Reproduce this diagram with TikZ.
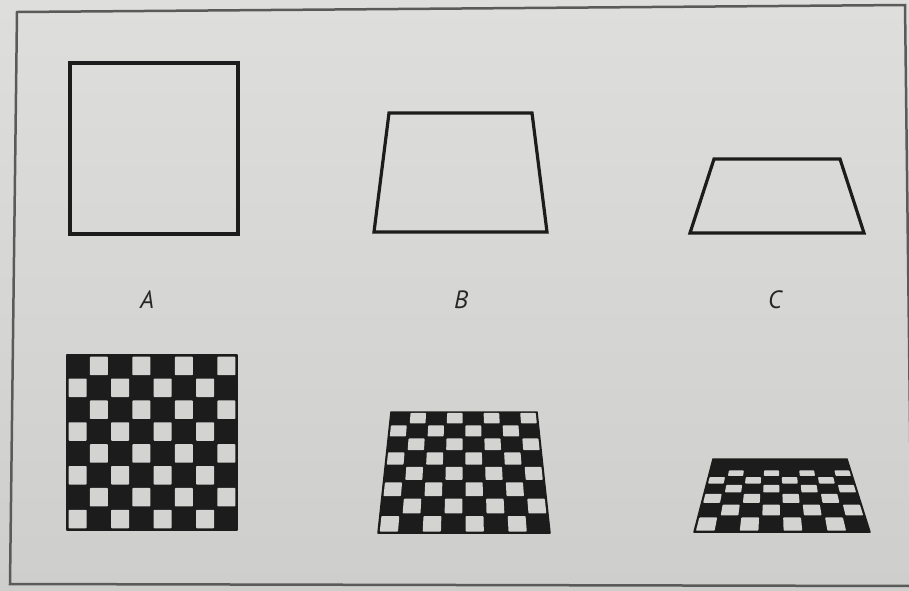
\documentclass[tikz,border=0pt]{standalone}
\usepackage{fontspec}
\newfontfamily\labelfont{PT Sans}
\definecolor{inkc}{HTML}{1C1C1C}
\definecolor{lightc}{HTML}{D3D3D1}
\definecolor{bgtop}{HTML}{DEDEDC}
\definecolor{bgbot}{HTML}{CECECC}
\definecolor{framec}{HTML}{5A5A5A}
\definecolor{labc}{HTML}{262626}
\def\eu{0.075}
\def\ev{0.075}
\newcommand\setboard[8]{\def\byt{#1}\def\byb{#2}\def\bxtl{#3}\def\bxtr{#4}\def\bxbl{#5}\def\bxbr{#6}\def\bk{#7}\def\bn{#8}}
\newcommand\mapuv[3]{%
  \pgfmathsetmacro\mySs{(#3)/(\bk+(1-\bk)*(#3))}%
  \pgfmathsetmacro\myYY{\byt+(\byb-\byt)*\mySs}%
  \pgfmathsetmacro\myXL{\bxtl+(\bxbl-\bxtl)*\mySs}%
  \pgfmathsetmacro\myXR{\bxtr+(\bxbr-\bxtr)*\mySs}%
  \pgfmathsetmacro\myXX{\myXL+(\myXR-\myXL)*(#2)}%
  \coordinate (#1) at (\myXX,\myYY);}
\newcommand\drawboard[2]{% #1 name, #2 first row with light squares
  \coordinate (#1-tl) at (\bxtl,\byt);
  \coordinate (#1-tr) at (\bxtr,\byt);
  \coordinate (#1-br) at (\bxbr,\byb);
  \coordinate (#1-bl) at (\bxbl,\byb);
  \path[darkfill] (#1-tl) -- (#1-tr) -- (#1-br) -- (#1-bl) -- cycle;
  \pgfmathtruncatemacro\bnm{\bn-1}%
  \foreach \i in {#2,...,\bnm}{\foreach \j in {0,...,7}{%
    \pgfmathtruncatemacro\myodd{mod(\i+\j,2)}%
    \ifnum\myodd=1
      \mapuv{p1}{(\j+\eu)/8}{(\i+\ev)/\bn}
      \mapuv{p2}{(\j+1-\eu)/8}{(\i+\ev)/\bn}
      \mapuv{p3}{(\j+1-\eu)/8}{(\i+1-\ev)/\bn}
      \mapuv{p4}{(\j+\eu)/8}{(\i+1-\ev)/\bn}
      \fill[lightsq] (p1) -- (p2) -- (p3) -- (p4) -- cycle;
    \fi}}}
\begin{document}
\begin{tikzpicture}[x=1pt,y=-1pt,
  outline/.style={draw=inkc,line width=3.2pt,line join=miter},
  darkfill/.style={fill=inkc,draw=inkc,line width=1.5pt,line join=round},
  lightsq/.style={fill=lightc,rounded corners=0.8pt},
  framestyle/.style={draw=framec,line width=2.5pt,line join=miter},
  lab/.style={font=\labelfont\itshape\fontsize{25}{25}\selectfont,text=labc,inner sep=0pt}]
\useasboundingbox (0,0) rectangle (909,590);
\shade[top color=bgtop,bottom color=bgbot] (0,0) rectangle (909,590);
% frame
\coordinate (f1) at (17,12);
\coordinate (f2) at (905,5);
\coordinate (f3) at (912,590);
\coordinate (f4) at (10,584);
\coordinate (f5) at (915,586);
\draw[framestyle] (f5) -- (f4) -- (f1) -- (f2) -- (f3);
% outline shapes
\coordinate (a1) at (70,63);
\coordinate (a2) at (238,234);
\draw[outline] (a1) rectangle (a2);
\coordinate (b1) at (389,113);
\coordinate (b2) at (532,113);
\coordinate (b3) at (547,232);
\coordinate (b4) at (374,232);
\draw[outline] (b1) -- (b2) -- (b3) -- (b4) -- cycle;
\coordinate (c1) at (714,159);
\coordinate (c2) at (840,159);
\coordinate (c3) at (864,233);
\coordinate (c4) at (690,233);
\draw[outline] (c1) -- (c2) -- (c3) -- (c4) -- cycle;
% labels
\node[lab] (labA) at (147,300) {A};
\node[lab] (labB) at (461,300) {B};
\node[lab] (labC) at (775,300) {C};
% checkerboards
\setboard{355}{530}{67}{237}{67}{237}{1}{8}
\drawboard{bA}{0}
\setboard{412}{533}{391}{537}{378}{550}{1.25}{8}
\drawboard{bB}{0}
\setboard{459}{532}{713}{847}{694}{870}{1.9}{8}
\drawboard{bC}{2}
\end{tikzpicture}
\end{document}
